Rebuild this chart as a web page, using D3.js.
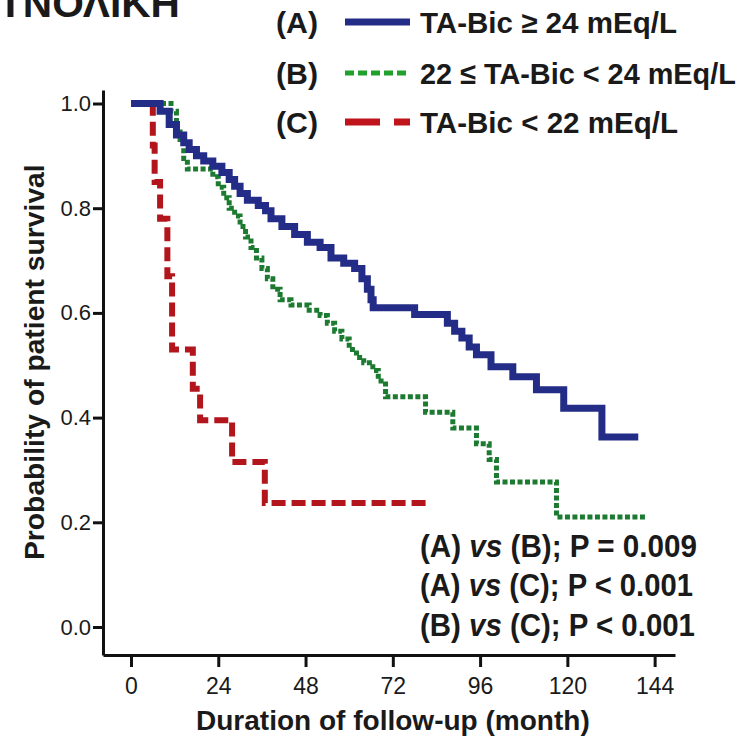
<!DOCTYPE html>
<html>
<head>
<meta charset="utf-8">
<script src="https://cdn.jsdelivr.net/npm/d3@7"></script>
<style>
  body { margin: 0; background: #fff; }
  svg { display: block; font-family: "Liberation Sans", Arial, sans-serif; }
</style>
</head>
<body>
<div id="chart"></div>
<script>
// Kaplan-Meier steps (month of drop, survival after drop)
var monthsA = [0, 8, 10.5, 12.5, 14.5, 16, 18, 20, 22.5, 25, 27, 28.5, 30, 32, 35, 37, 38.5, 41.5, 45, 48.5, 52, 55, 58.5, 61.5, 63.5, 65, 66, 66.6, 78, 87, 89, 91, 93, 95, 99, 105, 111.5, 119, 129.5, 139.5];
var survA  = [1.0, 0.985, 0.96, 0.94, 0.925, 0.912, 0.9, 0.89, 0.88, 0.868, 0.855, 0.842, 0.828, 0.815, 0.805, 0.795, 0.78, 0.765, 0.75, 0.735, 0.725, 0.705, 0.695, 0.685, 0.665, 0.645, 0.625, 0.61, 0.597, 0.58, 0.565, 0.552, 0.535, 0.52, 0.497, 0.478, 0.453, 0.418, 0.363, 0.363];

var monthsB = [0, 11, 12.5, 13.5, 14.5, 15.5, 22.5, 24, 25.5, 27, 28.5, 30, 31.5, 33, 34.5, 36, 37.5, 39, 41, 44, 49, 52, 54, 56, 58, 60, 62, 64, 66.5, 68, 70, 81, 88.5, 95, 98.5, 100.5, 117, 142];
var survB  = [1.0, 0.985, 0.955, 0.925, 0.895, 0.875, 0.86, 0.84, 0.82, 0.80, 0.785, 0.765, 0.745, 0.725, 0.705, 0.685, 0.665, 0.645, 0.625, 0.615, 0.605, 0.595, 0.58, 0.565, 0.55, 0.53, 0.515, 0.505, 0.49, 0.47, 0.44, 0.41, 0.38, 0.35, 0.32, 0.277, 0.21, 0.21];

var monthsC = [0, 6, 6.5, 8, 10, 11.3, 17, 19, 27.8, 36.8, 81.7];
var survC  = [1.0, 0.92, 0.85, 0.78, 0.67, 0.53, 0.455, 0.395, 0.315, 0.237, 0.237];

var xTicks = [0, 24, 48, 72, 96, 120, 144];
var yTicks = [0, 0.2, 0.4, 0.6, 0.8, 1.0];

var legendKeys = ["(A)", "(B)", "(C)"];
var legendLabels = ["TA-Bic \u2265 24 mEq/L", "22 \u2264 TA-Bic < 24 mEq/L", "TA-Bic < 22 mEq/L"];
var pairs = [["(A)", "(B)", "P = 0.009"], ["(A)", "(C)", "P < 0.001"], ["(B)", "(C)", "P < 0.001"]];

var svgWidth = 747, svgHeight = 740;
var margin = { top: 90, right: 72, bottom: 85, left: 103 };
var width = svgWidth - margin.left - margin.right;
var height = svgHeight - margin.top - margin.bottom;

var svg = d3.select("#chart").append("svg")
  .attr("width", svgWidth)
  .attr("height", svgHeight);

// the figure uses a condensed bold face: squeeze a text to a target width
function condensed(parent, str, x, y, size, targetW, anchor, rotate, dy) {
  var g = parent.append("g");
  var t = g.append("text")
    .attr("dy", dy === undefined ? "0.35em" : dy)
    .attr("font-size", size).attr("font-weight", "bold").attr("fill", "#1a1a1a");
  if (typeof str === "string") t.text(str);
  else str(t);
  var w = t.node().getComputedTextLength();
  var k = targetW / w;
  var shift = anchor === "middle" ? -w / 2 : 0;
  t.attr("x", shift);
  g.attr("transform", `translate(${x}, ${y})` + (rotate ? ` rotate(${rotate})` : "") + ` scale(${k}, 1)`);
  return g;
}

// heading cut off at the top-left corner (only its lower part shows, as in the figure)
condensed(svg, "ΤΝΟΛΙΚΗ", -2, 17, 38, 182, null, null, 0);

var chartGroup = svg.append("g")
  .attr("transform", `translate(${margin.left}, ${margin.top})`);

var x = d3.scaleLinear().domain([-7.7, 149.6]).range([0, width]);
var y = d3.scaleLinear().domain([-0.0535, 1.0258]).range([height, 0]);

// axes
var bottomAxis = d3.axisBottom(x).tickValues(xTicks).tickSize(12).tickSizeOuter(0).tickPadding(11);
var leftAxis = d3.axisLeft(y).tickValues(yTicks).tickSize(10).tickSizeOuter(0).tickPadding(2)
  .tickFormat(d3.format(".1f"));

var gx = chartGroup.append("g")
  .attr("transform", `translate(0, ${height})`)
  .call(bottomAxis);
var gy = chartGroup.append("g").call(leftAxis);

[gx, gy].forEach(function (g) {
  g.select(".domain").attr("stroke", "#111").attr("stroke-width", 3);
  g.selectAll(".tick line").attr("stroke", "#111").attr("stroke-width", 3);
  g.selectAll(".tick text").attr("fill", "#1a1a1a").attr("font-family", "Liberation Sans, Arial, sans-serif");
});
gx.selectAll(".tick text").attr("font-size", 23);
gy.selectAll(".tick text").attr("font-size", 22);

// survival curves
var line = d3.line()
  .x(function (d) { return x(d[0]); })
  .y(function (d) { return y(d[1]); })
  .curve(d3.curveStepAfter);

var series = [
  { t: monthsC, s: survC, color: "#b3151c", w: 6, dash: "14,6" },
  { t: monthsB, s: survB, color: "#1c7a31", w: 5, dash: "5,2.5" },
  { t: monthsA, s: survA, color: "#232c86", w: 7, dash: null }
];

series.forEach(function (se) {
  var pts = se.t.map(function (t, i) { return [t, se.s[i]]; });
  chartGroup.append("path")
    .datum(pts)
    .attr("fill", "none")
    .attr("stroke", se.color)
    .attr("stroke-width", se.w)
    .attr("stroke-dasharray", se.dash)
    .attr("d", line);
});

// legend
var legendY = [22, 73, 122];
var legendStyle = [
  { color: "#232c86", w: 7, dash: null },
  { color: "#22a02c", w: 5, dash: "9,4" },
  { color: "#c0141c", w: 7, dash: "35,14" }
];
var legendLen = [257, 316, 258];

legendKeys.forEach(function (k, i) {
  condensed(svg, k, 276, legendY[i], 30, 42);
  svg.append("line")
    .attr("x1", 345).attr("x2", 410)
    .attr("y1", legendY[i]).attr("y2", legendY[i])
    .attr("stroke", legendStyle[i].color)
    .attr("stroke-width", legendStyle[i].w)
    .attr("stroke-dasharray", legendStyle[i].dash);
  condensed(svg, legendLabels[i], 420, legendY[i], 30, legendLen[i]);
});

// log-rank comparisons
var pairY = [546, 585, 625];
var pairLen = [277, 273, 275];
pairs.forEach(function (p, i) {
  condensed(svg, function (t) {
    t.append("tspan").text(p[0] + " ");
    t.append("tspan").attr("font-style", "italic").text("vs");
    t.append("tspan").text(" " + p[1] + "; " + p[2]);
  }, 420, pairY[i], 31, pairLen[i]);
});

// axis titles
condensed(svg, "Duration of follow-up (month)", 393, 720, 28, 394, "middle");
condensed(svg, "Probability of patient survival", 35, 362, 27, 396, "middle", -90);
</script>
</body>
</html>
